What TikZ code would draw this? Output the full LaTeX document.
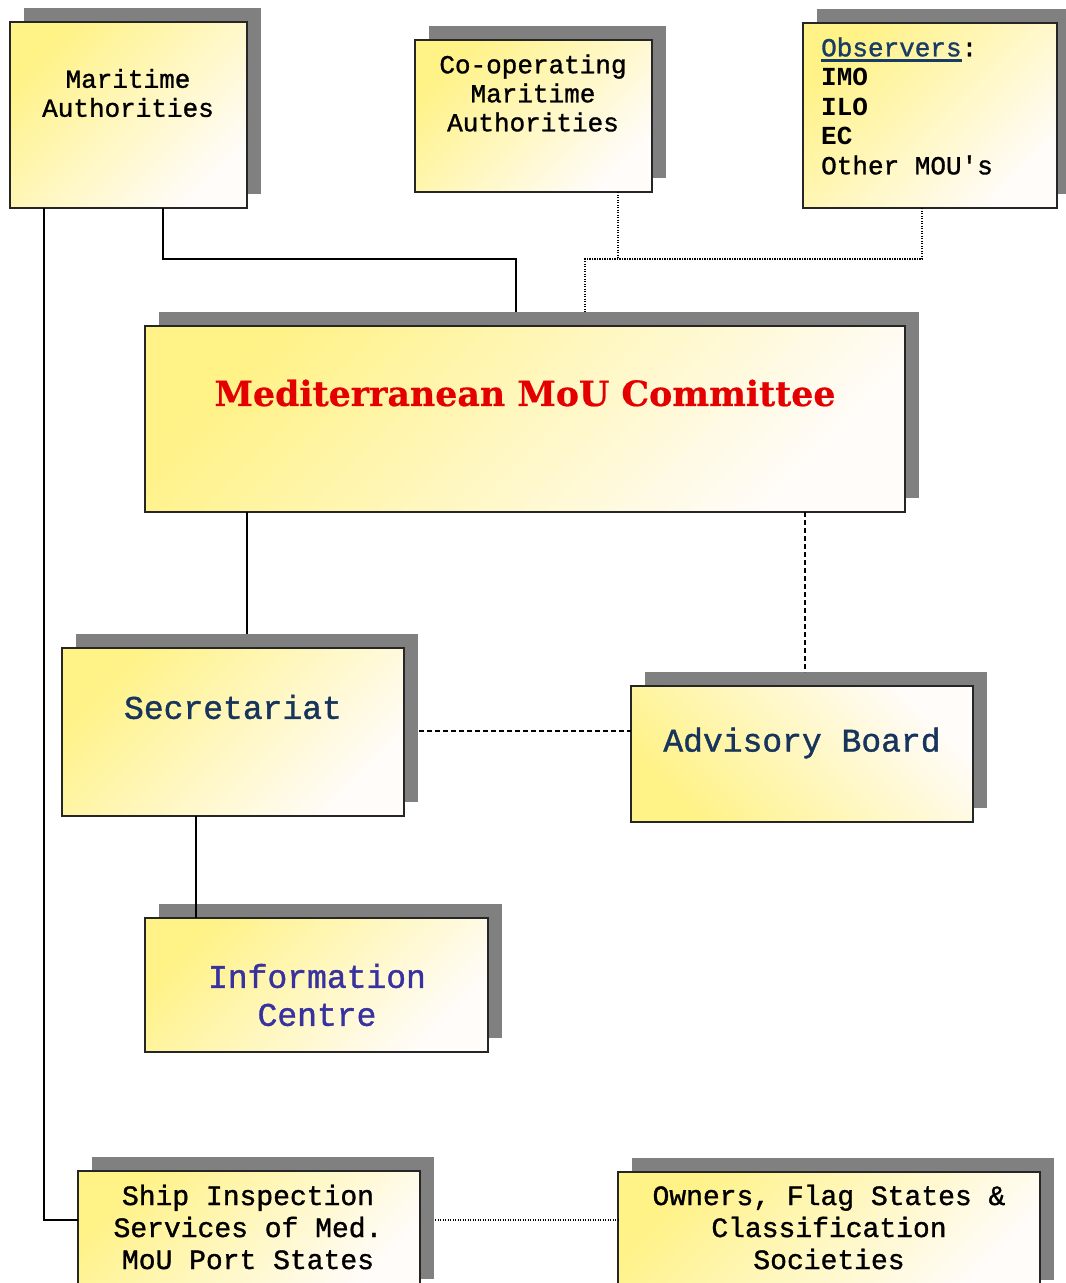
\documentclass[tikz,border=0pt]{standalone}
\usepackage{fontspec}
\usepackage{graphicx}
\usetikzlibrary{shadows,calc}
\newfontfamily\monofam[FakeBold=1.2]{Liberation Mono}
\newfontfamily\monobold{Liberation Mono Bold}
\newfontfamily\serfam[FakeBold=0.6]{DejaVu Serif Bold}
\definecolor{boxyellow}{RGB}{255,242,135}
\definecolor{boxmid}{RGB}{255,249,218}
\definecolor{boxwhite}{RGB}{255,252,250}
\definecolor{shadowgray}{RGB}{128,128,128}
\definecolor{navy}{RGB}{22,52,92}
\definecolor{infoblue}{RGB}{55,50,160}
\definecolor{comred}{RGB}{228,0,0}
\definecolor{obsblue}{RGB}{25,60,100}
\newcommand\obsul[1]{\setbox0\hbox{#1}\rlap{\rule[-6pt]{\wd0}{3pt}}\box0}
\begin{document}
\begin{tikzpicture}[x=1pt,y=1pt,
  orgbox/.style={rectangle, inner sep=0pt, outer sep=0pt, draw=black!85, line width=1.3pt,
    top color=boxyellow, middle color=boxmid, bottom color=boxwhite, shading angle=45,
    general shadow={fill=shadowgray, shadow xshift=14pt, shadow yshift=14pt}},
  lblA/.style={inner sep=0pt, align=center, font={\monofam\fontsize{26}{29}\selectfont}},
  lblB/.style={inner sep=0pt, align=center, font={\monofam\fontsize{33}{38}\selectfont}},
  lblC/.style={inner sep=0pt, align=center, font={\monofam\fontsize{28}{32}\selectfont}},
  conn/.style={draw=black, line width=1.4pt},
  dotc/.style={draw=black, line width=1.2pt, dash pattern=on 1.2pt off 1.3pt},
  dashc/.style={draw=black, line width=1.3pt, dash pattern=on 5pt off 3pt}]
\useasboundingbox (0,0) rectangle (1066,-1283);
\clip (0,0) rectangle (1066,-1283);
\fill[white] (0,0) rectangle (1066,-1283);
% boxes
\node[orgbox, minimum width=237pt, minimum height=186pt] (ma) at (128.5,-115) {};
\node[orgbox, minimum width=237pt, minimum height=152pt] (coop) at (533.5,-116) {};
\node[orgbox, minimum width=254pt, minimum height=185pt] (obs) at (930,-115.5) {};
\node[orgbox, minimum width=760pt, minimum height=186pt] (com) at (525,-419) {};
\node[orgbox, minimum width=342pt, minimum height=168pt] (sec) at (233,-732) {};
\node[orgbox, shading angle=135, minimum width=342pt, minimum height=136pt] (adv) at (802,-754) {};
\node[orgbox, minimum width=343pt, minimum height=134pt] (info) at (316.5,-985) {};
\node[orgbox, minimum width=342pt, minimum height=122pt] (ship) at (249,-1232) {};
\node[orgbox, minimum width=422pt, minimum height=122pt] (own) at (829,-1233) {};
% labels
\node[lblA] (maT) at (128,-93) {Maritime\\Authorities};
\node[lblA] (coopT) at (533,-93) {Co-operating\\Maritime\\Authorities};
\node[lblA, align=left, anchor=west, font={\monofam\fontsize{26}{29.5}\selectfont}] (obsT) at (821,-106)
  {{\color{obsblue}\obsul{Observers}}:\\{\monobold IMO}\\{\monobold ILO}\\{\monobold EC}\\Other MOU\textquotesingle s};
\node[inner sep=0pt, text=comred] (comT) at (525,-393)
  {\resizebox{621pt}{!}{\serfam Mediterranean MoU Committee}};
\node[lblB, text=navy] (secT) at (233,-707) {Secretariat};
\node[lblB, text=navy] (advT) at (802,-743) {Advisory Board};
\node[lblB, text=infoblue] (infoT) at (317,-995) {Information\\Centre};
\node[lblC] (shipT) at (248,-1227) {Ship Inspection\\Services of Med.\\MoU Port States};
\node[lblC] (ownT) at (829,-1227) {Owners, Flag States \&\\Classification\\Societies};
% bend points
\coordinate (b1) at (516,-259);
\coordinate (b2) at (618,-259);
\coordinate (b3) at (585,-259);
% connectors
\draw[conn] ($(ma.south west)+(153,0)$) |- (b1) -- ($(com.north west)+(371,14)$);
\draw[conn] ($(ma.south west)+(34,0)$) |- ($(ship.west)+(0,12)$);
\draw[dotc] ($(coop.south west)+(203,0)$) -- (b2);
\draw[dotc] ($(obs.south west)+(119,0)$) |- (b3) -- ($(com.north west)+(440,14)$);
\draw[conn] ($(com.south west)+(102,0)$) -- ($(sec.north west)+(185,14)$);
\draw[dashc] ($(com.south west)+(660,0)$) -- ($(adv.north west)+(174,14)$);
\draw[dashc] ($(sec.east)+(15,1)$) -- ($(adv.west |- sec.east)+(0,1)$);
\draw[conn] ($(sec.south west)+(134,0)$) -- ($(info.north west)+(51,0)$);
\draw[dotc] ($(ship.east)+(15,12)$) -- ($(own.west)+(0,13)$);
\end{tikzpicture}
\end{document}
